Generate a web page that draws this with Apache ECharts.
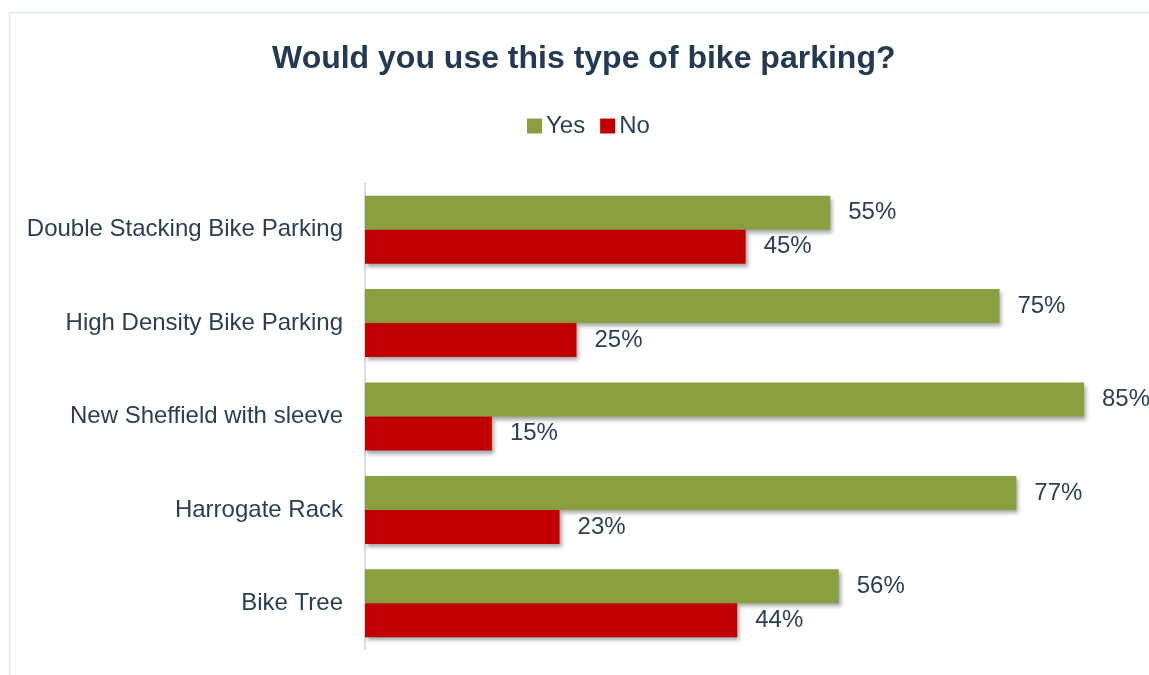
<!DOCTYPE html>
<html><head><meta charset="utf-8">
<script src="https://cdn.jsdelivr.net/npm/echarts@6/dist/echarts.min.js"></script>
<style>html,body{margin:0;padding:0;background:#fff}#c{width:1149px;height:675px}</style>
</head><body><div id="c"></div>
<script>
const categories = ['Double Stacking Bike Parking','High Density Bike Parking','New Sheffield with sleeve','Harrogate Rack','Bike Tree'];
const yesValues = [55, 75, 85, 77, 56];
const noValues = [45, 25, 15, 23, 44];
const seriesNames = ['Yes', 'No'];

const chart = echarts.init(document.getElementById('c'));
const textColor = '#2b3e55';
const shadow = {shadowColor:'rgba(0,0,0,0.35)', shadowBlur:4, shadowOffsetX:2, shadowOffsetY:3};
chart.setOption({
  animation:false,
  textStyle:{fontFamily:'Liberation Sans, Arial, sans-serif'},
  graphic:[{type:'rect', shape:{x:9.5,y:12.5,width:1200,height:700}, style:{fill:'none', stroke:'#dce5f0', lineWidth:1.5}, z:-1}],
  title:{text:'Would you use this type of bike parking?', left:267, top:38,
    textStyle:{fontSize:32, fontWeight:'bold', color:'#243a52', fontFamily:'Liberation Sans, Arial, sans-serif'}},
  legend:{data:seriesNames, top:109, left:522, itemWidth:15, itemHeight:15, itemGap:15,
    icon:'rect', textStyle:{fontSize:24, color:textColor, padding:[0,0,0,-1]}},
  grid:{left:365, right:65, top:183, bottom:25, containLabel:false},
  xAxis:{type:'value', min:0, max:85, show:false},
  yAxis:{type:'category', data:categories, inverse:true,
    axisLine:{show:true, lineStyle:{color:'#d5dfeb', width:2}}, axisTick:{show:false},
    axisLabel:{fontSize:24, color:textColor, margin:22}},
  series:[
    {name:'Yes', type:'bar', data:yesValues, barWidth:34, barGap:'0%', barCategoryGap:'28%',
      itemStyle:Object.assign({color:'#8a9f3f'}, shadow),
      label:{show:true, position:'right', distance:18, formatter:'{c}%', fontSize:24, color:textColor}},
    {name:'No', type:'bar', data:noValues, barWidth:34, barGap:'0%',
      itemStyle:Object.assign({color:'#c00000'}, shadow),
      label:{show:true, position:'right', distance:18, formatter:'{c}%', fontSize:24, color:textColor}}
  ]
});
</script></body></html>
